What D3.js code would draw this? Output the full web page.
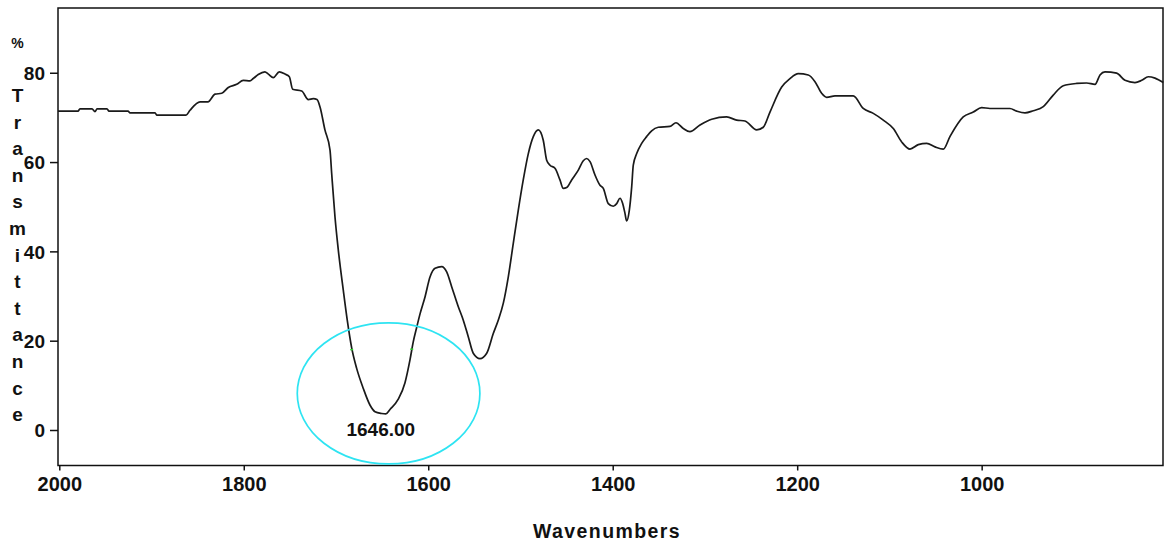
<!DOCTYPE html>
<html>
<head>
<meta charset="utf-8">
<script src="https://cdn.jsdelivr.net/npm/d3@7"></script>
<style>
  html, body { margin: 0; padding: 0; background: #fff; }
  svg text { font-family: "Liberation Sans", Arial, sans-serif; font-weight: bold; fill: #111; }
</style>
</head>
<body>
<svg id="irSvg"></svg>
<script>
// ---- spectrum values (cm-1, %T) ----
const wavenumbers = [
  2001.4, 1979.7, 1977.6, 1964.5, 1961.3, 1959.1, 1948.3, 1946.1, 1925.5, 1923.3,
  1896.2, 1894.1, 1862.6, 1858.3, 1847.4, 1838.8, 1831.2, 1823.9, 1816.8, 1807.7,
  1800.5, 1793.3, 1789.7, 1784.3, 1777.1, 1773.4, 1768.0, 1761.5, 1755.3, 1750.6,
  1747.0, 1737.2, 1730.0, 1724.6, 1720.6, 1717.4, 1712.0, 1706.5, 1704.7, 1701.1,
  1697.5, 1692.1, 1687.8, 1683.0, 1677.6, 1670.4, 1663.2, 1657.7, 1650.5, 1646.0,
  1641.5, 1632.5, 1625.2, 1619.8, 1616.2, 1612.5, 1608.9, 1603.5, 1598.0, 1592.6,
  1585.4, 1580.0, 1574.6, 1567.4, 1562.0, 1556.6, 1551.2, 1543.9, 1536.6, 1529.5,
  1524.1, 1518.6, 1513.2, 1507.8, 1502.4, 1497.0, 1491.5, 1486.1, 1480.7, 1475.3,
  1471.6, 1468.0, 1462.6, 1457.2, 1453.6, 1449.9, 1444.5, 1437.3, 1431.9, 1428.2,
  1424.6, 1419.2, 1413.8, 1410.2, 1404.8, 1399.4, 1395.7, 1392.1, 1389.2, 1386.7,
  1384.9, 1382.0, 1379.4, 1377.7, 1374.0, 1368.6, 1363.2, 1357.8, 1350.6, 1338.0,
  1331.4, 1323.5, 1316.3, 1305.4, 1292.7, 1276.5, 1265.6, 1256.6, 1243.9, 1236.8,
  1229.5, 1216.8, 1207.8, 1198.8, 1188.0, 1180.7, 1173.5, 1168.0, 1159.0, 1139.2,
  1128.4, 1117.5, 1106.7, 1095.8, 1086.7, 1077.7, 1068.7, 1059.6, 1050.6, 1041.6,
  1034.4, 1020.0, 1009.1, 1000.0, 991.0, 969.3, 962.0, 953.0, 944.0, 933.2,
  922.4, 911.5, 897.0, 886.2, 877.1, 871.7, 866.3, 853.6, 844.6, 833.8,
  826.5, 819.4, 812.1, 803.1
];
const transmittance = [
  71.4, 71.4, 71.9, 71.9, 71.3, 71.9, 71.9, 71.4, 71.4, 71.0,
  71.0, 70.5, 70.5, 71.6, 73.5, 73.5, 75.2, 75.4, 76.7, 77.4,
  78.3, 78.2, 78.7, 79.6, 80.2, 79.7, 78.9, 80.2, 79.7, 79.1,
  76.3, 75.9, 74.0, 74.2, 74.0, 72.4, 67.2, 62.7, 57.5, 47.7,
  40.3, 31.3, 24.6, 18.4, 13.8, 9.3, 5.6, 4.1, 3.7, 3.6,
  4.6, 6.9, 10.6, 15.7, 19.8, 23.0, 26.0, 29.8, 34.3, 36.2,
  36.6, 35.4, 32.1, 27.6, 24.6, 20.9, 17.2, 16.0, 17.2, 21.6,
  24.6, 28.4, 34.3, 41.8, 49.2, 56.0, 61.9, 65.7, 67.2, 64.9,
  60.4, 59.3, 58.6, 56.0, 54.1, 54.3, 56.0, 58.2, 60.3, 60.8,
  60.1, 57.1, 54.8, 54.1, 50.7, 50.1, 50.7, 51.9, 50.7, 48.5,
  46.8, 49.2, 54.5, 59.3, 61.9, 64.2, 65.7, 67.0, 67.8, 68.0,
  68.8, 67.5, 66.8, 68.3, 69.6, 70.1, 69.4, 69.2, 67.2, 67.8,
  71.2, 76.8, 78.7, 79.8, 79.5, 78.0, 75.4, 74.5, 74.8, 74.8,
  72.0, 70.9, 69.4, 67.5, 64.5, 62.9, 63.9, 64.2, 63.4, 62.9,
  65.7, 70.1, 71.2, 72.2, 72.0, 72.0, 71.4, 71.0, 71.5, 72.4,
  75.0, 77.1, 77.6, 77.7, 77.4, 79.5, 80.2, 79.9, 78.3, 77.8,
  78.3, 79.1, 78.8, 77.8
];

// axis ticks
const xTicks = [2000, 1800, 1600, 1400, 1200, 1000];
const yTicks = [0, 20, 40, 60, 80];
const yTitleLetters = "Transmittance".split("");

// peak annotation + the two region markers (green)
const peakWavenumber = 1646;
const peakLabel = "1646.00";
const regionMarkers = [{ wn: 1683.0, t: 18.0 }, { wn: 1617.9, t: 18.1 }];
const ellipseCenter = { wn: 1643, t: 8.2 };
const ellipseHalfSize = { wn: 99, t: 15.8 };

// ---- layout ----
const W = 1166, H = 544;
const plot = { left: 58, top: 8, right: 1163, bottom: 465.5 };

const svg = d3.select("#irSvg").attr("width", W).attr("height", H);

const x = d3.scaleLinear().domain([2001.4, 803.4]).range([plot.left, plot.right]);
const y = d3.scaleLinear().domain([94.5, -7.95]).range([plot.top, plot.bottom]);

// frame
svg.append("rect")
  .attr("x", plot.left).attr("y", plot.top)
  .attr("width", plot.right - plot.left).attr("height", plot.bottom - plot.top)
  .attr("fill", "none").attr("stroke", "#111").attr("stroke-width", 1.5);

// y axis (ticks point left)
const yAxis = svg.append("g")
  .attr("transform", `translate(${plot.left},0)`)
  .call(d3.axisLeft(y).tickValues(yTicks).tickSize(8).tickPadding(5).tickFormat(d3.format("d")));
yAxis.select(".domain").remove();
yAxis.selectAll("line").attr("stroke", "#111").attr("stroke-width", 1.5);
yAxis.selectAll("text").style("font-size", "19px").attr("dy", "0.36em");

// x axis (ticks point down)
const xAxis = svg.append("g")
  .attr("transform", `translate(0,${plot.bottom})`)
  .call(d3.axisBottom(x).tickValues(xTicks).tickSize(5).tickPadding(20).tickFormat(d3.format("d")));
xAxis.select(".domain").remove();
xAxis.selectAll("line").attr("stroke", "#111").attr("stroke-width", 1.5);
xAxis.selectAll("text").style("font-size", "20px").attr("dy", "0");

// axis titles
svg.append("text")
  .attr("x", 607).attr("y", 538)
  .attr("text-anchor", "middle")
  .style("font-size", "19.5px").style("letter-spacing", "1.4px")
  .text("Wavenumbers");

svg.append("text")
  .attr("x", 17.5).attr("y", 48)
  .attr("text-anchor", "middle")
  .style("font-size", "14px")
  .text("%");

svg.append("g").selectAll("text")
  .data(yTitleLetters)
  .join("text")
  .attr("x", 17.5)
  .attr("y", (d, i) => 102 + i * 26.6)
  .attr("text-anchor", "middle")
  .style("font-size", "19px")
  .text(d => d);

// spectrum line
const points = wavenumbers.map((wn, i) => [wn, transmittance[i]]);
svg.append("path")
  .datum(points)
  .attr("fill", "none")
  .attr("stroke", "#1a1a1a")
  .attr("stroke-width", 1.7)
  .attr("stroke-linejoin", "round")
  .attr("d", d3.line().curve(d3.curveMonotoneX).x(d => x(d[0])).y(d => y(d[1])));

// green markers on the peak region
svg.append("g").selectAll("line")
  .data(regionMarkers)
  .join("line")
  .attr("x1", d => x(d.wn) - 1.5).attr("x2", d => x(d.wn) + 1.5)
  .attr("y1", d => y(d.t)).attr("y2", d => y(d.t))
  .attr("stroke", "#2fcf2f").attr("stroke-width", 1.5);

// cyan ellipse around the peak
svg.append("ellipse")
  .attr("cx", x(ellipseCenter.wn))
  .attr("cy", y(ellipseCenter.t))
  .attr("rx", x(ellipseCenter.wn - ellipseHalfSize.wn) - x(ellipseCenter.wn))
  .attr("ry", y(ellipseCenter.t - ellipseHalfSize.t) - y(ellipseCenter.t))
  .attr("fill", "none")
  .attr("stroke", "#2ee4f2")
  .attr("stroke-width", 1.7);

// peak label
const peakT = transmittance[wavenumbers.indexOf(peakWavenumber)];
svg.append("text")
  .attr("x", x(peakWavenumber) - 5)
  .attr("y", y(peakT) + 22)
  .attr("text-anchor", "middle")
  .style("font-size", "19px")
  .text(peakLabel);
</script>
</body>
</html>
